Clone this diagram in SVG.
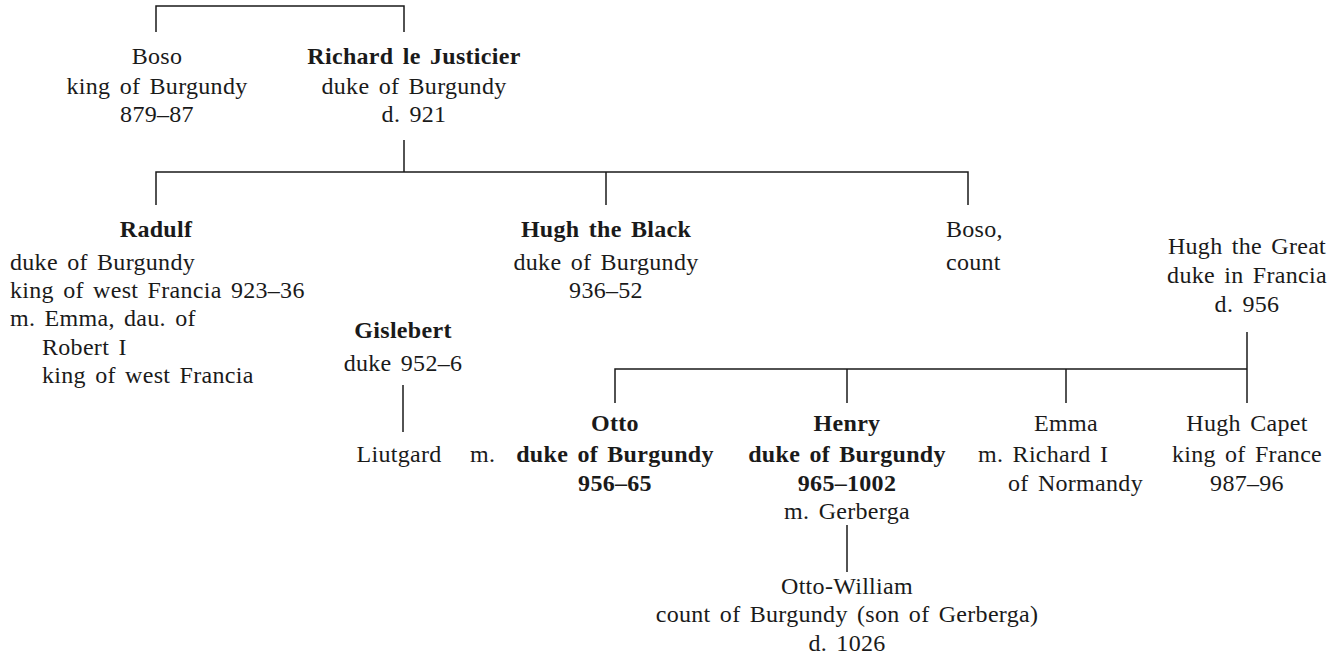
<svg xmlns="http://www.w3.org/2000/svg" width="1342" height="661" viewBox="0 0 1342 661">
<style>
text{font-family:"Liberation Serif","Times New Roman",serif;font-size:24px;fill:#1a1a1a;letter-spacing:0.3px;word-spacing:3px}
.c{text-anchor:middle}
.b{font-weight:bold}
.ln{stroke:#1a1a1a;stroke-width:1.5;fill:none}
</style>
<rect width="1342" height="661" fill="#ffffff"/>
<g id="connectors" class="ln">
<path d="M156 32V6H404V32"/>
<path d="M404 140V172"/>
<path d="M156 205V172H968V205"/>
<path d="M606 172V205"/>
<path d="M1247 332V403"/>
<path d="M615 403V369H1247"/>
<path d="M847 369V403"/>
<path d="M1066 369V403"/>
<path d="M403 385V432"/>
<path d="M847 525V572"/>
</g>
<g id="boso-king">
<text class="c" x="157" y="64">Boso</text>
<text class="c" x="157" y="94">king of Burgundy</text>
<text class="c" x="157" y="122">879–87</text>
</g>
<g id="richard">
<text class="c b" x="414" y="64">Richard le Justicier</text>
<text class="c" x="414" y="94">duke of Burgundy</text>
<text class="c" x="414" y="122">d. 921</text>
</g>
<g id="radulf">
<text class="c b" x="156" y="237">Radulf</text>
<text x="10" y="270">duke of Burgundy</text>
<text x="10" y="298">king of west Francia 923–36</text>
<text x="10" y="326">m. Emma, dau. of</text>
<text x="42" y="355">Robert I</text>
<text x="42" y="383">king of west Francia</text>
</g>
<g id="hugh-black">
<text class="c b" x="606" y="237">Hugh the Black</text>
<text class="c" x="606" y="270">duke of Burgundy</text>
<text class="c" x="606" y="298">936–52</text>
</g>
<g id="boso-count">
<text x="946" y="237">Boso,</text>
<text x="946" y="270">count</text>
</g>
<g id="hugh-great">
<text class="c" x="1247" y="254">Hugh the Great</text>
<text class="c" x="1247" y="283">duke in Francia</text>
<text class="c" x="1247" y="312">d. 956</text>
</g>
<g id="gislebert">
<text class="c b" x="403" y="338">Gislebert</text>
<text class="c" x="403" y="371">duke 952–6</text>
</g>
<g id="liutgard">
<text class="c" x="399" y="462">Liutgard</text>
</g>
<g id="marriage">
<text x="470" y="462">m.</text>
</g>
<g id="otto">
<text class="c b" x="615" y="431">Otto</text>
<text class="c b" x="615" y="462">duke of Burgundy</text>
<text class="c b" x="615" y="491">956–65</text>
</g>
<g id="henry">
<text class="c b" x="847" y="431">Henry</text>
<text class="c b" x="847" y="462">duke of Burgundy</text>
<text class="c b" x="847" y="491">965–1002</text>
<text class="c" x="847" y="519">m. Gerberga</text>
</g>
<g id="emma">
<text class="c" x="1066" y="431">Emma</text>
<text x="978" y="462">m. Richard I</text>
<text x="1008" y="491">of Normandy</text>
</g>
<g id="hugh-capet">
<text class="c" x="1247" y="431">Hugh Capet</text>
<text class="c" x="1247" y="462">king of France</text>
<text class="c" x="1247" y="491">987–96</text>
</g>
<g id="otto-william">
<text class="c" x="847" y="594">Otto-William</text>
<text class="c" x="847" y="622">count of Burgundy (son of Gerberga)</text>
<text class="c" x="847" y="651">d. 1026</text>
</g>
</svg>
